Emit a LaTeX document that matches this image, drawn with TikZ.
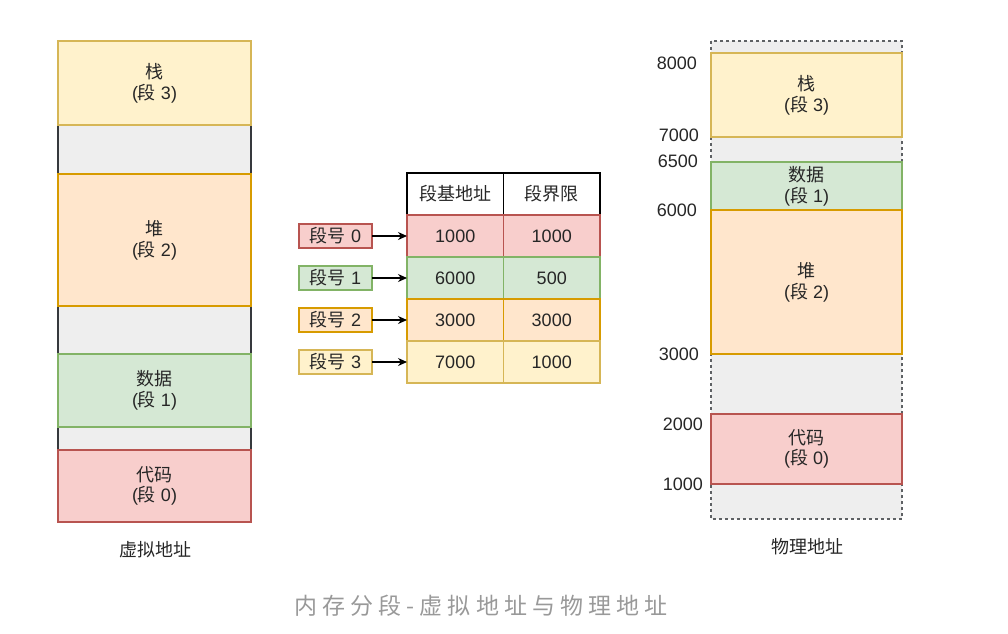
\documentclass[tikz,border=0pt]{standalone}
\usepackage{fontspec}
\setmainfont{Liberation Sans}
\newfontfamily\cjk{Noto Sans CJK SC}
\newfontfamily\capfont[LetterSpace=22]{Noto Sans CJK SC}
\usetikzlibrary{positioning,arrows.meta}

\definecolor{ylwF}{HTML}{FFF2CC}\definecolor{ylwD}{HTML}{D6B656}
\definecolor{orgF}{HTML}{FFE6CC}\definecolor{orgD}{HTML}{D79B00}
\definecolor{grnF}{HTML}{D5E8D4}\definecolor{grnD}{HTML}{82B366}
\definecolor{redF}{HTML}{F8CECC}\definecolor{redD}{HTML}{B85450}
\definecolor{gryF}{HTML}{EEEEEE}\definecolor{gryD}{HTML}{36393D}

\newcommand{\seg}[2]{\raisebox{-3pt}{\shortstack{{\cjk #1}\\[1pt]({\cjk 段} #2)}}}

\begin{document}
\begin{tikzpicture}[x=1pt, y=-1pt, >={Stealth[length=9pt,width=8pt]},
    font=\fontsize{18}{23}\selectfont, text=black!85,
    mem/.style={draw=#1D, fill=#1F, line width=1.1pt, minimum width=193pt,
        align=center, inner sep=0pt, outer sep=0pt},
    cell/.style={draw=#1D, fill=#1F, line width=1.1pt, minimum height=42pt,
        minimum width=96.5pt, inner sep=0pt, outer sep=0pt},
    segno/.style={draw=#1D, fill=#1F, line width=1.1pt, minimum width=73pt,
        minimum height=24pt, inner sep=0pt, outer sep=0pt},
    addr/.style={anchor=east, inner sep=0pt}]
    \useasboundingbox (0,0) rectangle (1008,633);

    % ===== virtual address space =====
    \def\xL{154.5}
    \draw[draw=gryD, fill=gryF, line width=1.1pt] (58,41) rectangle (251,522);
    \node[mem=ylw, minimum height=84pt]  (vstack) at (\xL, 83)    {\seg{栈}{3}};
    \node[mem=org, minimum height=132pt] (vheap)  at (\xL, 240)   {\seg{堆}{2}};
    \node[mem=grn, minimum height=73pt]  (vdata)  at (\xL, 390.5) {\seg{数据}{1}};
    \node[mem=red, minimum height=72pt]  (vcode)  at (\xL, 486)   {\seg{代码}{0}};
    \node (vlabel) at (155, 550) {\cjk 虚拟地址};

    % ===== segment table =====
    \node[draw=black, line width=1.1pt, minimum height=42pt, minimum width=96.5pt,
        inner sep=0pt, outer sep=0pt] (hbase) at (455.25, 194) {\cjk 段基地址};
    \node[draw=black, line width=1.1pt, minimum height=42pt, minimum width=96.5pt,
        inner sep=0pt, outer sep=0pt, right=0pt of hbase] (hlim) {\cjk 段界限};

    \node[cell=red, below=0pt of hbase] (b0) {1000};
    \node[cell=red, right=0pt of b0]    (l0) {1000};
    \node[cell=grn, below=0pt of b0]    (b1) {6000};
    \node[cell=grn, right=0pt of b1]    (l1) {500};
    \node[cell=org, below=0pt of b1]    (b2) {3000};
    \node[cell=org, right=0pt of b2]    (l2) {3000};
    \node[cell=ylw, below=0pt of b2]    (b3) {7000};
    \node[cell=ylw, right=0pt of b3]    (l3) {1000};

    \node[segno=red, left=35pt of b0] (n0) {{\cjk 段号} 0};
    \node[segno=grn, left=35pt of b1] (n1) {{\cjk 段号} 1};
    \node[segno=org, left=35pt of b2] (n2) {{\cjk 段号} 2};
    \node[segno=ylw, left=35pt of b3] (n3) {{\cjk 段号} 3};

    \foreach \i in {0,...,3}
        \draw[->, line width=1.1pt, black] (n\i) -- (b\i);

    % ===== physical address space =====
    \def\xR{806.5}
    \draw[draw=gryD!80, fill=gryF, line width=1.1pt, dash pattern=on 3pt off 3pt]
        (711,41) rectangle (902,519);
    \node[mem=ylw, minimum width=191pt, minimum height=84pt]  (pstack) at (\xR, 95)  {\seg{栈}{3}};
    \node[mem=grn, minimum width=191pt, minimum height=48pt]  (pdata)  at (\xR, 186) {\seg{数据}{1}};
    \node[mem=org, minimum width=191pt, minimum height=144pt] (pheap)  at (\xR, 282) {\seg{堆}{2}};
    \node[mem=red, minimum width=191pt, minimum height=70pt]  (pcode)  at (\xR, 449) {\seg{代码}{0}};
    \node (plabel) at (807, 547) {\cjk 物理地址};

    % addresses
    \node[addr] (a8000) at (697, 63)  {8000};
    \node[addr] (a7000) at (699, 135) {7000};
    \node[addr] (a6500) at (698, 161) {6500};
    \node[addr] (a6000) at (697, 210) {6000};
    \node[addr] (a3000) at (699, 354) {3000};
    \node[addr] (a2000) at (703, 424) {2000};
    \node[addr] (a1000) at (703, 484) {1000};

    % caption
    \node[text=black!40, font=\fontsize{23}{27}\selectfont] (caption) at (481, 606)
        {\capfont 内存分段-虚拟地址与物理地址};
\end{tikzpicture}
\end{document}
